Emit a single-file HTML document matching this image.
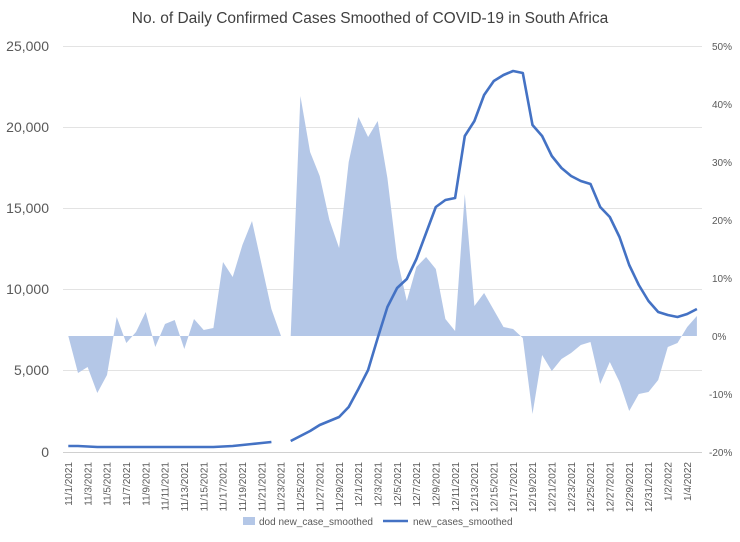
<!DOCTYPE html>
<html><head><meta charset="utf-8"><style>
body{margin:0;background:#fff;}
svg text{font-family:"Liberation Sans",sans-serif;fill:#595959;}
</style></head><body>
<svg width="740" height="537" viewBox="0 0 740 537" xmlns="http://www.w3.org/2000/svg">
<rect width="740" height="537" fill="#fff"/>
<text x="370" y="23" text-anchor="middle" font-size="15.5" style="fill:#404040">No. of Daily Confirmed Cases Smoothed of COVID-19 in South Africa</text>
<g stroke="#e3e3e3" stroke-width="1">
<line x1="63" x2="702" y1="46.5" y2="46.5"/>
<line x1="63" x2="702" y1="127.5" y2="127.5"/>
<line x1="63" x2="702" y1="208.5" y2="208.5"/>
<line x1="63" x2="702" y1="289.5" y2="289.5"/>
<line x1="63" x2="702" y1="370.5" y2="370.5"/>
</g>
<line x1="63" x2="702" y1="452.5" y2="452.5" stroke="#d0d0d0"/>
<g font-size="14" text-anchor="end">
<text x="49" y="51">25,000</text><text x="49" y="132">20,000</text><text x="49" y="213">15,000</text>
<text x="49" y="294">10,000</text><text x="49" y="375">5,000</text><text x="49" y="457">0</text>
</g>
<g font-size="10">
<text x="712" y="50">50%</text><text x="712" y="108">40%</text><text x="712" y="166">30%</text>
<text x="712" y="224">20%</text><text x="712" y="282">10%</text><text x="712" y="340">0%</text>
<text x="709" y="398">-10%</text><text x="709" y="456">-20%</text>
</g>
<polygon fill="#b4c7e7" points="68.3,336 78.0,373 87.6,367 97.3,393 107.0,375 116.7,317 126.3,343 136.0,332 145.7,312 155.3,347 165.0,324 174.7,320 184.3,349 194.0,319 203.7,330 213.4,328 223.0,262 232.7,277 242.4,245 252.0,221 261.7,265 271.4,309 281.0,336"/>
<polygon fill="#b4c7e7" points="290.7,336 300.4,96 310.1,152 319.7,176 329.4,220 339.1,248 348.7,162 358.4,117 368.1,137 377.7,121 387.4,178 397.1,258 406.8,301 416.4,267 426.1,257 435.8,269 445.4,319 455.1,331 464.8,194 474.4,306 484.1,293 493.8,310 503.5,327 513.1,329 522.8,338 532.5,414 542.1,355 551.8,371 561.5,359 571.1,353 580.8,345 590.5,342 600.2,384 609.8,362 619.5,382 629.2,411 638.8,394 648.5,392 658.2,380 667.8,347 677.5,343 687.2,327 696.9,316 696.9,336"/>
<g fill="none" stroke="#4472c4" stroke-width="2.6" stroke-linejoin="round">
<polyline points="68.3,446 78.0,446 87.6,446.5 97.3,447 107.0,447 116.7,447 126.3,447 136.0,447 145.7,447 155.3,447 165.0,447 174.7,447 184.3,447 194.0,447 203.7,447 213.4,447 223.0,446.5 232.7,446 242.4,445 252.0,444 261.7,443 271.4,442"/>
<polyline points="290.7,441 300.4,436 310.1,431 319.7,425 329.4,421 339.1,417 348.7,407 358.4,389 368.1,370 377.7,338 387.4,307 397.1,288 406.8,279 416.4,259 426.1,233 435.8,207 445.4,200 455.1,198 464.8,136 474.4,121 484.1,95 493.8,81 503.5,75 513.1,71 522.8,73 532.5,125 542.1,136 551.8,156 561.5,168 571.1,176 580.8,181 590.5,184 600.2,207 609.8,217 619.5,237 629.2,265 638.8,285 648.5,301 658.2,312 667.8,315 677.5,317 687.2,314 696.9,309"/>
</g>
<g font-size="10" text-anchor="end">
<text transform="translate(72,462) rotate(-90)">11/1/2021</text>
<text transform="translate(91.3,462) rotate(-90)">11/3/2021</text>
<text transform="translate(110.7,462) rotate(-90)">11/5/2021</text>
<text transform="translate(130,462) rotate(-90)">11/7/2021</text>
<text transform="translate(149.4,462) rotate(-90)">11/9/2021</text>
<text transform="translate(168.7,462) rotate(-90)">11/11/2021</text>
<text transform="translate(188,462) rotate(-90)">11/13/2021</text>
<text transform="translate(207.4,462) rotate(-90)">11/15/2021</text>
<text transform="translate(226.7,462) rotate(-90)">11/17/2021</text>
<text transform="translate(246.1,462) rotate(-90)">11/19/2021</text>
<text transform="translate(265.4,462) rotate(-90)">11/21/2021</text>
<text transform="translate(284.7,462) rotate(-90)">11/23/2021</text>
<text transform="translate(304.1,462) rotate(-90)">11/25/2021</text>
<text transform="translate(323.4,462) rotate(-90)">11/27/2021</text>
<text transform="translate(342.8,462) rotate(-90)">11/29/2021</text>
<text transform="translate(362.1,462) rotate(-90)">12/1/2021</text>
<text transform="translate(381.4,462) rotate(-90)">12/3/2021</text>
<text transform="translate(400.8,462) rotate(-90)">12/5/2021</text>
<text transform="translate(420.1,462) rotate(-90)">12/7/2021</text>
<text transform="translate(439.5,462) rotate(-90)">12/9/2021</text>
<text transform="translate(458.8,462) rotate(-90)">12/11/2021</text>
<text transform="translate(478.1,462) rotate(-90)">12/13/2021</text>
<text transform="translate(497.5,462) rotate(-90)">12/15/2021</text>
<text transform="translate(516.8,462) rotate(-90)">12/17/2021</text>
<text transform="translate(536.2,462) rotate(-90)">12/19/2021</text>
<text transform="translate(555.5,462) rotate(-90)">12/21/2021</text>
<text transform="translate(574.8,462) rotate(-90)">12/23/2021</text>
<text transform="translate(594.2,462) rotate(-90)">12/25/2021</text>
<text transform="translate(613.5,462) rotate(-90)">12/27/2021</text>
<text transform="translate(632.9,462) rotate(-90)">12/29/2021</text>
<text transform="translate(652.2,462) rotate(-90)">12/31/2021</text>
<text transform="translate(671.5,462) rotate(-90)">1/2/2022</text>
<text transform="translate(690.9,462) rotate(-90)">1/4/2022</text>
</g>
<rect x="243" y="517" width="12" height="8" fill="#b4c7e7"/>
<text x="259" y="525" font-size="10">dod new_case_smoothed</text>
<line x1="383" x2="408" y1="521" y2="521" stroke="#4472c4" stroke-width="2.6"/>
<text x="413" y="525" font-size="10">new_cases_smoothed</text>
</svg>
</body></html>
